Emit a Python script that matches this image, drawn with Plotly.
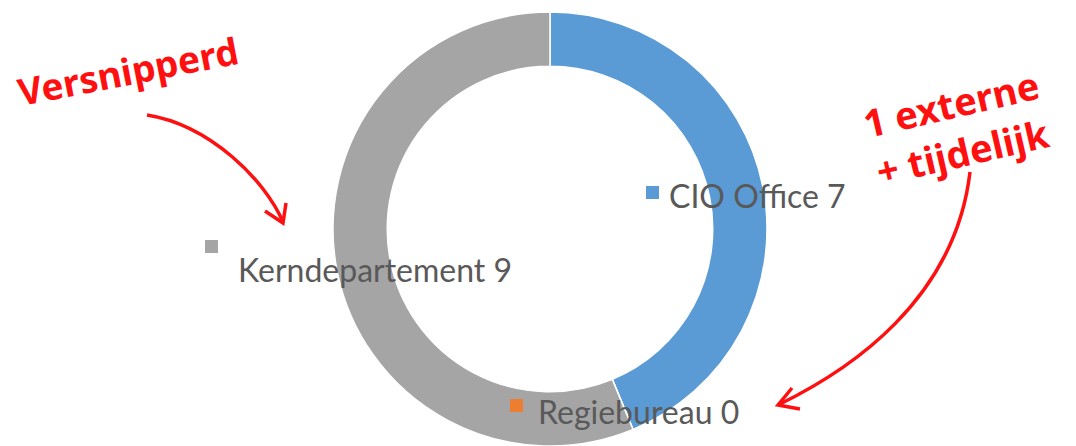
import plotly.graph_objects as go

# ---- data ----
labels = ["CIO Office", "Regiebureau", "Kerndepartement"]
values = [7, 0, 9]
colors = ["#5B9BD5", "#ED7D31", "#A5A5A5"]

note_left = "Versnipperd"
note_right = "1 externe<br>+ tijdelijk"

W, H = 1076, 446

def px(x):
    return x / W

def py(y):
    return 1 - y / H

fig = go.Figure()
fig.add_trace(go.Pie(
    labels=labels, values=values, hole=0.75, sort=False,
    direction="clockwise", rotation=0,
    marker=dict(colors=colors, line=dict(color="white", width=1.5)),
    textinfo="none", showlegend=False,
    domain=dict(x=[px(333), px(767)], y=[0, py(12)]),
))

# data label positions (pixels: square left, square top, text left, text mid-y)
label_pos = {
    "CIO Office": (646, 186, 667, 196),
    "Regiebureau": (510, 399, 536, 411),
    "Kerndepartement": (205, 240, 236, 269),
}
annotations = []
shapes = []
for lab, val, col in zip(labels, values, colors):
    sx, sy, tx, ty = label_pos[lab]
    shapes.append(dict(type="rect", xref="paper", yref="paper",
                       x0=px(sx), x1=px(sx + 13), y0=py(sy + 13), y1=py(sy),
                       fillcolor=col, line=dict(width=0)))
    annotations.append(dict(text=f"{lab} {val}", xref="paper", yref="paper",
                            x=px(tx), y=py(ty), xanchor="left", yanchor="middle",
                            showarrow=False,
                            font=dict(family="Lato", size=32, color="#595959")))

hand = "Comic Sans MS, Noto Sans"
annotations.append(dict(text=f"<b>{note_left}</b>", xref="paper", yref="paper",
                        x=px(128), y=py(70), xanchor="center", yanchor="middle",
                        showarrow=False, textangle=-11,
                        font=dict(family=hand, size=37, color="#FF1010")))
annotations.append(dict(text=f"<b>{note_right}</b>", xref="paper", yref="paper",
                        x=px(956), y=py(127), xanchor="center", yanchor="middle",
                        showarrow=False, textangle=-13,
                        font=dict(family=hand, size=38, color="#FF1010"),
                        align="center"))

def path(points, curve=True):
    p = [(px(x), py(y)) for x, y in points]
    if curve:
        s = f"M {p[0][0]},{p[0][1]} C {p[1][0]},{p[1][1]} {p[2][0]},{p[2][1]} {p[3][0]},{p[3][1]}"
    else:
        s = "M " + " L ".join(f"{a},{b}" for a, b in p)
    return s

red = dict(color="#FF1010", width=3.5)
# left arrow
shapes.append(dict(type="path", xref="paper", yref="paper",
                   path=path([(147, 115), (210, 125), (265, 180), (283, 222)]), line=red))
shapes.append(dict(type="path", xref="paper", yref="paper",
                   path=path([(265, 211), (283, 223), (286, 203)], curve=False), line=red))
# right arrow
shapes.append(dict(type="path", xref="paper", yref="paper",
                   path=path([(970, 172), (955, 300), (850, 370), (778, 405)]), line=red))
shapes.append(dict(type="path", xref="paper", yref="paper",
                   path=path([(792, 388), (778, 405), (800, 409)], curve=False), line=red))

fig.update_layout(
    width=W, height=H, margin=dict(l=0, r=0, t=0, b=0),
    paper_bgcolor="white", plot_bgcolor="white",
    annotations=annotations, shapes=shapes,
)
fig.write_html("out.html", config={"displayModeBar": False},
               post_script="document.body.style.margin='0';document.body.style.overflow='hidden';")
